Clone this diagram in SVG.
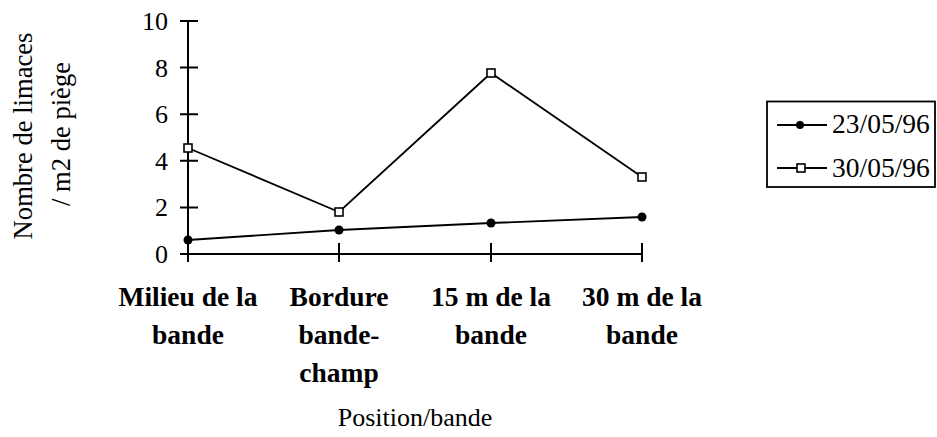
<svg xmlns="http://www.w3.org/2000/svg" width="937" height="437" viewBox="0 0 937 437">
<style>
text{font-family:'Liberation Serif','Tinos','Times New Roman','DejaVu Serif',serif;font-size:26px;fill:#000}
.b{font-weight:bold;text-anchor:middle;font-size:27.5px}
.lg{font-size:27.5px}
.ax{stroke:#000;stroke-width:2;fill:none}
.ser{stroke:#000;stroke-width:1.8;fill:none}
.sq{fill:#fff;stroke:#000;stroke-width:1.6}
.dot{fill:#000}
.tl{text-anchor:end}
</style>
<rect width="937" height="437" fill="#fff"/>
<g id="axes">
<path class="ax" d="M188,21V262M180,254H642"/>
<path class="ax" d="M180,21H198M180,67.6H198M180,114.2H198M180,160.8H198M180,207.4H198"/>
<path class="ax" d="M339,243V262M491,243V262M642,243V262"/>
<text class="tl" x="168" y="30">10</text>
<text class="tl" x="168" y="77">8</text>
<text class="tl" x="168" y="123">6</text>
<text class="tl" x="168" y="170">4</text>
<text class="tl" x="168" y="216">2</text>
<text class="tl" x="168" y="263">0</text>
</g>
<g id="y-title">
<text transform="translate(32,136) rotate(-90)" text-anchor="middle" style="font-size:26.6px">Nombre de limaces</text>
<text transform="translate(70,134) rotate(-90)" text-anchor="middle" style="font-size:26.6px">/ m2 de piège</text>
</g>
<g id="x-labels">
<text class="b" x="188" y="306">Milieu de la</text>
<text class="b" x="188" y="344">bande</text>
<text class="b" x="339" y="306">Bordure</text>
<text class="b" x="339" y="344">bande-</text>
<text class="b" x="339" y="382">champ</text>
<text class="b" x="491" y="306">15 m de la</text>
<text class="b" x="491" y="344">bande</text>
<text class="b" x="642" y="306">30 m de la</text>
<text class="b" x="642" y="344">bande</text>
<text x="415" y="426" text-anchor="middle">Position/bande</text>
</g>
<g id="connectors">
<polyline class="ser" points="188,240 339,230 491,223 642,217"/>
<polyline class="ser" points="188,148 339,212 491,73 642,177"/>
</g>
<g id="series-2305">
<circle class="dot" cx="188" cy="240" r="4.5"/>
<circle class="dot" cx="339" cy="230" r="4.5"/>
<circle class="dot" cx="491" cy="223" r="4.5"/>
<circle class="dot" cx="642" cy="217" r="4.5"/>
</g>
<g id="series-3005">
<rect class="sq" x="184" y="144" width="8" height="8"/>
<rect class="sq" x="335" y="208" width="8" height="8"/>
<rect class="sq" x="487" y="69" width="8" height="8"/>
<rect class="sq" x="638" y="173" width="8" height="8"/>
</g>
<g id="legend">
<rect x="767" y="101.5" width="168" height="85.5" fill="none" stroke="#000" stroke-width="1.8"/>
<line class="ser" x1="777" y1="125" x2="827" y2="125"/>
<circle class="dot" cx="800" cy="125" r="4"/>
<text class="lg" x="832" y="133">23/05/96</text>
<line class="ser" x1="777" y1="168" x2="827" y2="168"/>
<rect class="sq" x="797" y="164" width="8" height="8"/>
<text class="lg" x="832" y="177">30/05/96</text>
</g>
</svg>
